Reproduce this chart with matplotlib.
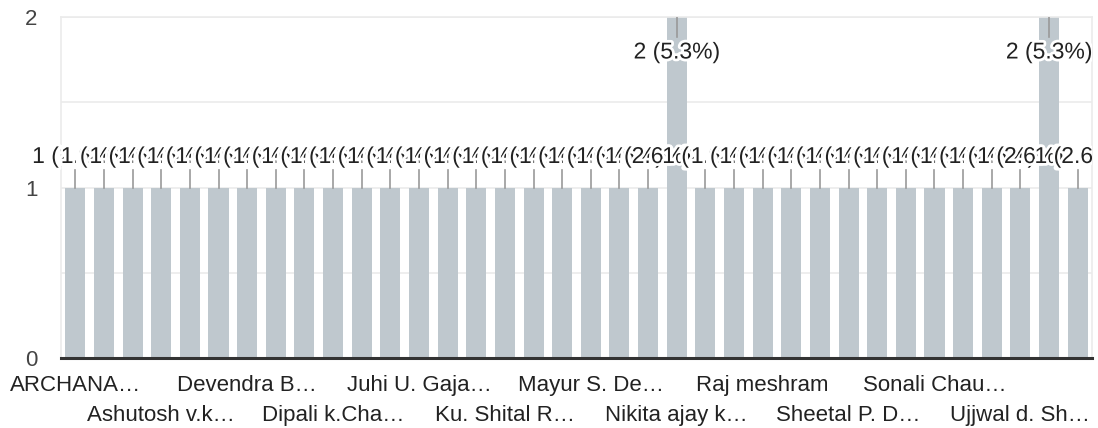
import matplotlib
matplotlib.use("Agg")
import matplotlib.pyplot as plt
import matplotlib.patheffects as pe
from matplotlib.transforms import Bbox
import numpy as np

# Response counts per name (36 answers, 38 responses total)
counts = [1, 1, 1, 1, 1, 1, 1, 1, 1, 1, 1, 1, 1, 1, 1, 1, 1, 1, 1, 1, 1, 2,
          1, 1, 1, 1, 1, 1, 1, 1, 1, 1, 1, 1, 2, 1]
total = 38

# Names shown on the axis (every third answer, two staggered rows)
top_row_idx = [0, 6, 12, 18, 24, 30]
top_row_labels = ["ARCHANA…", "Devendra B…", "Juhi U. Gaja…", "Mayur S. De…",
                  "Raj meshram", "Sonali Chau…"]
bottom_row_idx = [3, 9, 15, 21, 27, 33]
bottom_row_labels = ["Ashutosh v.k…", "Dipali k.Cha…", "Ku. Shital R…",
                     "Nikita ajay k…", "Sheetal P. D…", "Ujjwal d. Sh…"]

y_ticks = [0, 1, 2]

plt.rcParams["font.family"] = ["Liberation Sans", "DejaVu Sans"]

W, H = 1098, 428
fig = plt.figure(figsize=(W / 100, H / 100), dpi=100)
ax = fig.add_axes([61 / W, 1 - 358 / H, (1092 - 61) / W, (358 - 17) / H])

x = np.arange(len(counts))
bar_color = "#bfc8ce"
ax.bar(x, counts, width=0.7, color=bar_color, zorder=2)

ax.set_xlim(-0.5, len(counts) - 0.5)
ax.set_ylim(0, 2)

# light grid and frame
for gy in [0.5, 1.0, 1.5, 2.0]:
    ax.axhline(gy, color="#ebebeb", lw=1.2, zorder=0)
for side in ["left", "right", "top"]:
    ax.spines[side].set_color("#ebebeb")
    ax.spines[side].set_linewidth(1.2)
ax.spines["bottom"].set_color("#333333")
ax.spines["bottom"].set_linewidth(2.2)
ax.spines["bottom"].set_zorder(5)

ax.set_yticks(y_ticks)
ax.set_yticklabels([str(v) for v in y_ticks], fontsize=16, color="#444444")
ax.tick_params(axis="y", length=0, pad=17)

ax.set_xticks(top_row_idx)
ax.set_xticklabels(top_row_labels, fontsize=16, color="#222222")
ax.set_xticks(bottom_row_idx, minor=True)
ax.set_xticklabels(bottom_row_labels, minor=True, fontsize=16, color="#222222")
ax.tick_params(axis="x", which="major", length=0, pad=12)
ax.tick_params(axis="x", which="minor", length=0, pad=34)

# value annotations with leader lines
px = 1.0 / (358 - 17) * 2  # data units per pixel vertically
halo = [pe.withStroke(linewidth=4, foreground="white")]
fig.canvas.draw()
ax_bb = ax.get_window_extent()
clip = Bbox.from_extents(0, 0, ax_bb.x1, fig.bbox.y1)
for xi, c in zip(x, counts):
    label = f"{c} ({c / total * 100:.1f}%)"
    if c >= 2:
        ax.plot([xi, xi], [c, c - 20 * px], color="#999999", lw=1.2, zorder=3)
        t = ax.text(xi, c - 35 * px, label, ha="center", va="center",
                    fontsize=16.5, color="#222222", zorder=4, path_effects=halo,
                    clip_on=False)
    else:
        ax.plot([xi, xi], [c, c + 18 * px], color="#999999", lw=1.2, zorder=3,
                clip_on=False)
        t = ax.text(xi, c + 31 * px, label, ha="center", va="center",
                    fontsize=16.5, color="#222222", zorder=4, path_effects=halo,
                    clip_on=False)
    t.set_clip_box(clip)
    t.set_clip_on(True)

fig.savefig("out.png", dpi=100, facecolor="white")
